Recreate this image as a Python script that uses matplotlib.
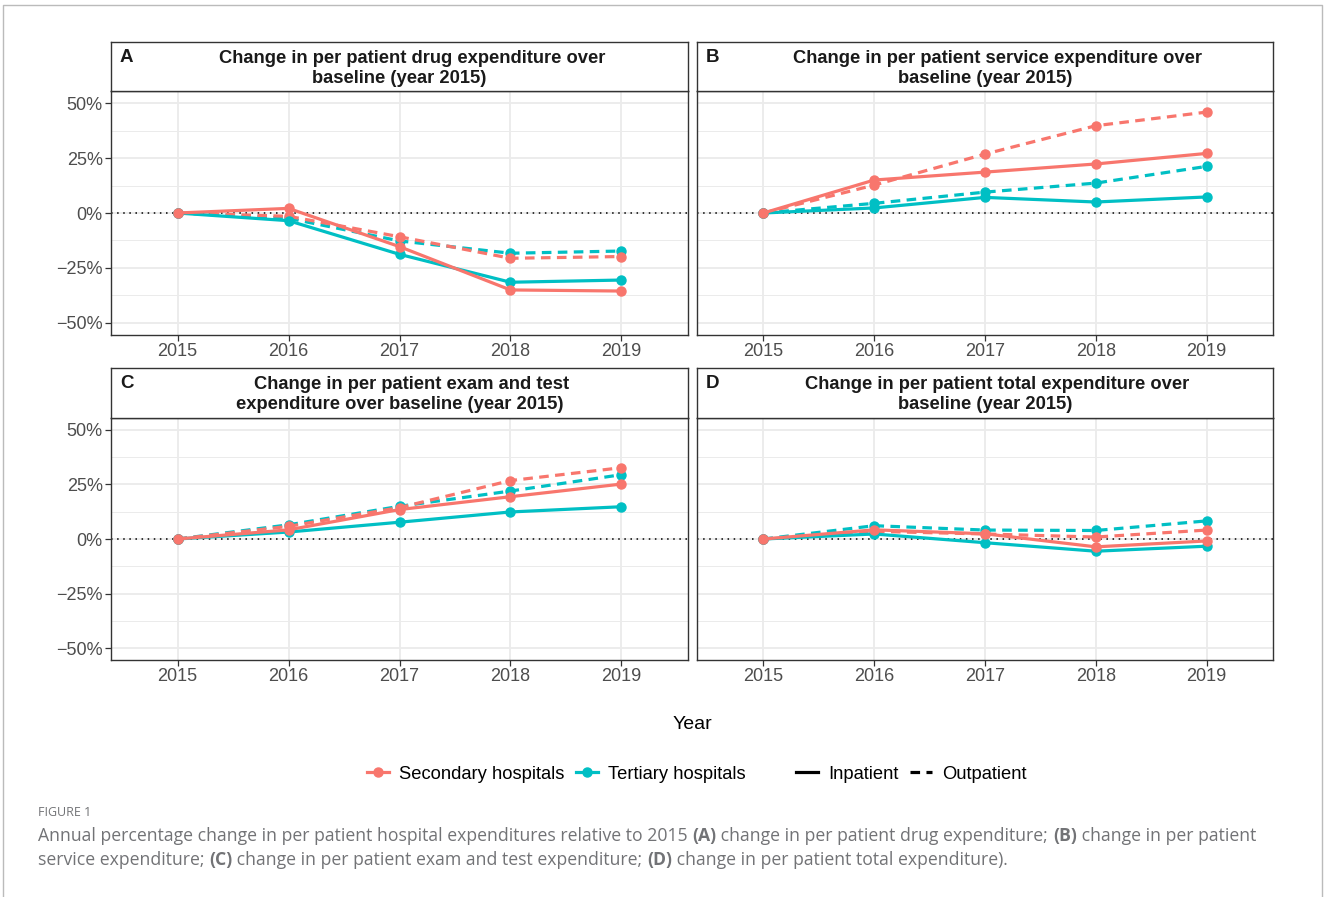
import matplotlib
matplotlib.use("Agg")
import matplotlib.pyplot as plt
from matplotlib.lines import Line2D
from matplotlib.ticker import FixedLocator

plt.rcParams["font.family"] = ["Liberation Sans", "DejaVu Sans"]

W, H = 1327, 897

years = [2015, 2016, 2017, 2018, 2019]

# panel A: drug expenditure (% change vs 2015)
drug_sec_in = [0, 2.1, -15.3, -35.0, -35.5]
drug_sec_out = [0, -1.5, -10.8, -20.6, -19.8]
drug_ter_in = [0, -3.5, -18.8, -31.5, -30.5]
drug_ter_out = [0, -2.4, -12.7, -18.3, -17.3]

# panel B: service expenditure
serv_sec_in = [0, 15.0, 18.6, 22.3, 27.1]
serv_sec_out = [0, 12.7, 26.8, 39.7, 45.9]
serv_ter_in = [0, 2.3, 7.1, 5.0, 7.3]
serv_ter_out = [0, 4.4, 9.5, 13.6, 21.2]

# panel C: exam and test expenditure
exam_sec_in = [0, 4.2, 13.5, 19.4, 25.2]
exam_sec_out = [0, 5.8, 14.4, 26.8, 32.7]
exam_ter_in = [0, 3.2, 7.7, 12.4, 14.8]
exam_ter_out = [0, 6.5, 15.0, 22.0, 29.5]

# panel D: total expenditure
total_sec_in = [0, 4.2, 2.4, -3.6, -0.9]
total_sec_out = [0, 3.5, 2.3, 0.9, 4.1]
total_ter_in = [0, 2.3, -1.7, -5.6, -3.3]
total_ter_out = [0, 6.1, 4.1, 3.9, 8.3]

panel_tags = ["A", "B", "C", "D"]
panel_titles = [
    ("Change in per patient drug expenditure over", "baseline (year 2015)"),
    ("Change in per patient service expenditure over", "baseline (year 2015)"),
    ("Change in per patient exam and test", "expenditure over baseline (year 2015)"),
    ("Change in per patient total expenditure over", "baseline (year 2015)"),
]
panel_data = [
    (drug_sec_in, drug_sec_out, drug_ter_in, drug_ter_out),
    (serv_sec_in, serv_sec_out, serv_ter_in, serv_ter_out),
    (exam_sec_in, exam_sec_out, exam_ter_in, exam_ter_out),
    (total_sec_in, total_sec_out, total_ter_in, total_ter_out),
]
y_ticks = [-50, -25, 0, 25, 50]
y_labels = ["\u221250%", "\u221225%", "0%", "25%", "50%"]

SEC_COLOR = "#F8766D"
TER_COLOR = "#00BFC4"
BORDER = "#333333"
GRID = "#EBEBEB"


def rect(x0, y0, x1, y1):
    """Pixel box (top-left origin) to figure-fraction rect."""
    return [x0 / W, 1 - y1 / H, (x1 - x0) / W, (y1 - y0) / H]


fig = plt.figure(figsize=(W / 100, H / 100), dpi=100)

# light frame around the figure (open at the bottom)
fig.add_artist(Line2D([3 / W, 3 / W, 1322 / W, 1322 / W], [0, 1 - 5 / H, 1 - 5 / H, 0],
                      transform=fig.transFigure, color="#BBBBBB", lw=1.0))

col_x = [(111, 688), (697, 1273)]
row_y = [(42, 91, 335), (368, 418, 660)]

for i in range(4):
    x0, x1 = col_x[i % 2]
    s0, p0, p1 = row_y[i // 2]
    ax = fig.add_axes(rect(x0, p0, x1, p1))
    sec_in, sec_out, ter_in, ter_out = panel_data[i]

    ax.axhline(0, color="black", lw=1.1, ls=(0, (1, 3)), zorder=1)
    ax.plot(years, ter_out, color=TER_COLOR, lw=2.3, ls=(0, (3, 2)), marker="o", ms=6.5, zorder=3)
    ax.plot(years, sec_out, color=SEC_COLOR, lw=2.3, ls=(0, (3, 2)), marker="o", ms=6.5, zorder=3)
    ax.plot(years, ter_in, color=TER_COLOR, lw=2.3, marker="o", ms=6.5, zorder=4)
    ax.plot(years, sec_in, color=SEC_COLOR, lw=2.3, marker="o", ms=6.5, zorder=4)

    ax.set_xlim(2014.4, 2019.6)
    ax.set_ylim(-55.5, 55.5)
    ax.set_xticks(years)
    ax.set_xticklabels([str(y) for y in years])
    ax.set_yticks(y_ticks)
    ax.set_yticklabels(y_labels)
    ax.yaxis.set_minor_locator(FixedLocator([-37.5, -12.5, 12.5, 37.5]))
    ax.grid(True, which="major", color=GRID, lw=1.3, zorder=0)
    ax.grid(True, which="minor", axis="y", color=GRID, lw=0.7, zorder=0)
    ax.set_axisbelow(True)
    ax.tick_params(which="major", length=4, width=0.9, color=BORDER,
                   labelsize=13, labelcolor="#4D4D4D", pad=2)
    ax.tick_params(which="minor", length=0)
    if i % 2 == 1:
        # shared y scale: right column carries no y labels or ticks
        ax.tick_params(axis="y", which="major", length=0, labelleft=False)
    for sp in ax.spines.values():
        sp.set_color(BORDER)
        sp.set_linewidth(1.0)

    # facet strip
    st = fig.add_axes(rect(x0, s0, x1, p0))
    st.set_xticks([])
    st.set_yticks([])
    st.set_facecolor("white")
    for sp in st.spines.values():
        sp.set_color(BORDER)
        sp.set_linewidth(1.0)
    cx = (x0 + x1) / 2
    line1, line2 = panel_titles[i]
    fig.text((x0 + 9) / W, 1 - (s0 + 16) / H, panel_tags[i], fontsize=13.5, fontweight="bold",
             ha="left", va="center", color="#1A1A1A")
    fig.text((cx + 12.5) / W, 1 - (s0 + 16.5) / H, line1, fontsize=13.2, fontweight="bold",
             ha="center", va="center", color="#1A1A1A")
    fig.text(cx / W, 1 - (s0 + 36.5) / H, line2, fontsize=13.2, fontweight="bold",
             ha="center", va="center", color="#1A1A1A")

fig.text(692 / W, 1 - 724 / H, "Year", fontsize=14, ha="center", va="center", color="black")

# legends
color_handles = [
    Line2D([], [], color=SEC_COLOR, lw=2.3, marker="o", ms=6.5),
    Line2D([], [], color=TER_COLOR, lw=2.3, marker="o", ms=6.5),
]
type_handles = [
    Line2D([], [], color="black", lw=2.3),
    Line2D([], [], color="black", lw=2.3, ls=(0, (3, 2))),
]
leg_kw = dict(loc="center left", ncol=2, frameon=False, fontsize=13.2, handlelength=1.2,
              handletextpad=0.55, columnspacing=0.65, borderpad=0, borderaxespad=0)
fig.legend(color_handles, ["Secondary hospitals", "Tertiary hospitals"],
           bbox_to_anchor=(367 / W, 1 - 774 / H), **leg_kw)
fig.legend(type_handles, ["Inpatient", "Outpatient"],
           bbox_to_anchor=(796 / W, 1 - 774 / H), **leg_kw)

# caption
CAP = "#727376"
fig.text(38 / W, 1 - 812 / H, "FIGURE 1", fontsize=9, color=CAP, family="Open Sans",
         ha="left", va="center")

renderer = fig.canvas.get_renderer()


def rich_line(x_px, y_px, parts):
    x = x_px / W
    for text, weight in parts:
        t = fig.text(x, 1 - y_px / H, text, fontsize=12.7, color=CAP, family="Open Sans",
                     fontweight=weight, ha="left", va="center")
        x += t.get_window_extent(renderer=renderer).width / W


rich_line(38, 836, [
    ("Annual percentage change in per patient hospital expenditures relative to 2015 ", "normal"),
    ("(A)", "bold"),
    (" change in per patient drug expenditure; ", "normal"),
    ("(B)", "bold"),
    (" change in per patient", "normal"),
])
rich_line(38, 860, [
    ("service expenditure; ", "normal"),
    ("(C)", "bold"),
    (" change in per patient exam and test expenditure; ", "normal"),
    ("(D)", "bold"),
    (" change in per patient total expenditure).", "normal"),
])

fig.savefig("out.png", dpi=100, facecolor="white")
